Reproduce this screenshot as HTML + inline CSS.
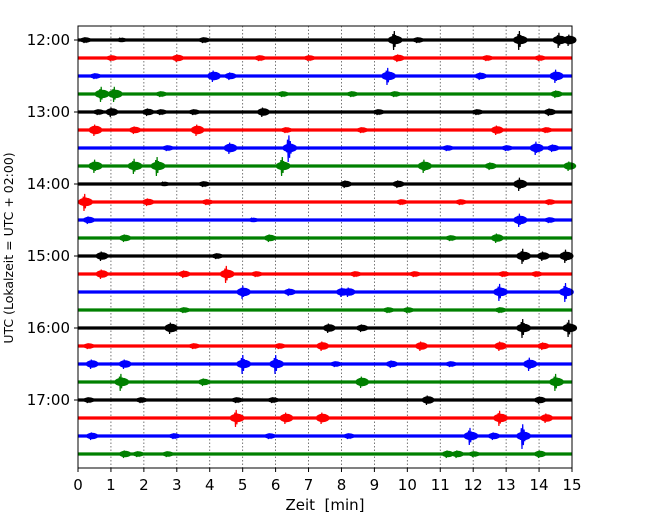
<!DOCTYPE html>
<html><head><meta charset="utf-8"><style>
body{margin:0;background:#fff}
svg{display:block;font-family:"DejaVu Sans","Liberation Sans",sans-serif}
</style></head><body>
<svg id="chart" width="650" height="520">
<g id="grid"></g>
<g id="traces"></g>
<rect x="78" y="26" width="494" height="442" fill="none" stroke="#000" stroke-width="1"/>
<g id="axes"></g>
<text x="13" y="248" font-size="12.5" text-anchor="middle" transform="rotate(-90 13 248)">UTC (Lokalzeit = UTC + 02:00)</text>
<text x="325" y="510" font-size="15" text-anchor="middle" xml:space="preserve">Zeit  [min]</text>
</svg>
<script>
const xTicks=[0,1,2,3,4,5,6,7,8,9,10,11,12,13,14,15];
const yTickLabels=["12:00","13:00","14:00","15:00","16:00","17:00"];
const traceColors=["#000","red","blue","green"];
const traceEvents=[
[[0.2,3],[1.3,2],[3.8,3],[9.6,10],[10.3,3],[13.4,10],[14.6,8],[14.9,6]],
[[1.0,3],[3.0,4],[5.5,3],[7.0,3],[9.7,4],[12.4,3],[14.0,3]],
[[0.5,3],[4.1,6],[4.6,4],[9.4,9],[12.2,4],[14.5,7]],
[[0.7,8],[1.1,8],[2.5,3],[6.2,3],[8.3,3],[9.6,3],[14.5,4]],
[[0.6,3],[1.0,5],[2.1,4],[2.5,3],[3.5,3],[5.6,5],[9.1,3],[12.1,3],[14.3,4]],
[[0.5,6],[1.7,4],[3.6,6],[6.3,3],[8.6,3],[12.7,5],[14.2,3]],
[[2.7,3],[4.6,6],[6.4,14],[11.2,3],[13.0,3],[13.9,7],[14.4,4]],
[[0.5,7],[1.7,8],[2.4,10],[6.2,10],[10.5,7],[12.5,4],[14.9,5]],
[[2.6,2],[3.8,3],[8.1,4],[9.7,4],[13.4,7]],
[[0.2,9],[2.1,4],[3.9,3],[9.8,3],[11.6,3],[14.3,3]],
[[0.3,4],[5.3,2],[13.4,7],[14.3,3]],
[[1.4,4],[5.8,4],[11.3,3],[12.7,5]],
[[0.7,5],[4.2,3],[13.5,8],[14.1,5],[14.8,7]],
[[0.7,5],[3.2,4],[4.5,9],[5.4,3],[8.4,3],[10.2,3],[12.9,3],[13.9,3]],
[[5.0,7],[6.4,4],[8.0,5],[8.2,5],[12.8,9],[14.8,10]],
[[3.2,3],[9.4,3],[10.0,3],[12.8,3]],
[[2.8,6],[7.6,5],[8.6,4],[13.5,10],[14.9,9]],
[[0.3,3],[3.5,3],[6.1,3],[7.4,5],[10.4,5],[12.8,5],[14.1,4]],
[[0.4,5],[1.4,5],[5.0,10],[6.0,10],[7.8,3],[9.5,4],[11.3,3],[13.7,7]],
[[1.3,9],[3.8,4],[8.6,6],[14.5,9]],
[[0.3,3],[1.9,3],[4.8,3],[5.9,3],[10.6,5],[14.0,4]],
[[4.8,9],[6.3,6],[7.4,6],[12.8,8],[14.2,5]],
[[0.4,4],[2.9,3],[5.8,3],[8.2,3],[11.9,9],[12.6,4],[13.5,13]],
[[1.4,4],[1.8,3],[2.7,3],[11.2,4],[11.5,4],[12.0,3],[14.0,4]]
];
const NS="http://www.w3.org/2000/svg";
const x=m=>78+m*(494/15);
const y=i=>40+i*18;
const grid=document.getElementById('grid'),tr=document.getElementById('traces'),ax=document.getElementById('axes');
function mk(tag,attrs,parent){const e=document.createElementNS(NS,tag);for(const k in attrs)e.setAttribute(k,attrs[k]);parent.appendChild(e);return e;}
xTicks.forEach(t=>{
  if(t>0&&t<15){const g=mk('line',{x1:x(t),x2:x(t),y1:26,y2:468,stroke:'#555','stroke-width':0.8,'stroke-dasharray':'1.5,2'},grid);
  
  }
  const tk=mk('line',{x1:x(t),x2:x(t),y1:468,y2:472,stroke:'#000'},ax);
  
  
  const lb=mk('text',{x:x(t),y:490,'font-size':15,'text-anchor':'middle'},ax);lb.textContent=t;
  
  
});
yTickLabels.forEach((s,k)=>{
  const yy=y(k*4);
  const tk=mk('line',{x1:74,x2:78,y1:yy,y2:yy,stroke:'#000'},ax);
  
  
  const lb=mk('text',{x:70,y:yy+5,'font-size':15,'text-anchor':'end'},ax);lb.textContent=s;
  
  
});
const shape=[0.3,-0.6,1,-0.9,0.7,-0.5,0.4,-0.3,0.2];
traceEvents.forEach((ev,i)=>{
  const c=traceColors[i%4],yy=y(i);
  const g=mk('g',{},tr);
  
  
  mk('line',{x1:78,x2:572,y1:yy,y2:yy,stroke:c,'stroke-width':3.2},g);
  ev.forEach(([m,a])=>{
    let d='M'+(x(m)-3)+' '+yy;
    shape.forEach((s,j)=>{d+=' L'+(x(m)-2+j*0.7).toFixed(1)+' '+(yy+s*a).toFixed(1);});
    d+=' L'+(x(m)+6)+' '+yy;
    const p=mk('path',{d:d,fill:'none',stroke:c,'stroke-width':1.2},g);
    
    
    const b=mk('ellipse',{cx:x(m)+1,cy:yy,rx:5+Math.min(a,8)*0.3,ry:Math.min(a,6)/2+1.2,fill:c},g);
    
    
  });
});
</script>
</body></html>
